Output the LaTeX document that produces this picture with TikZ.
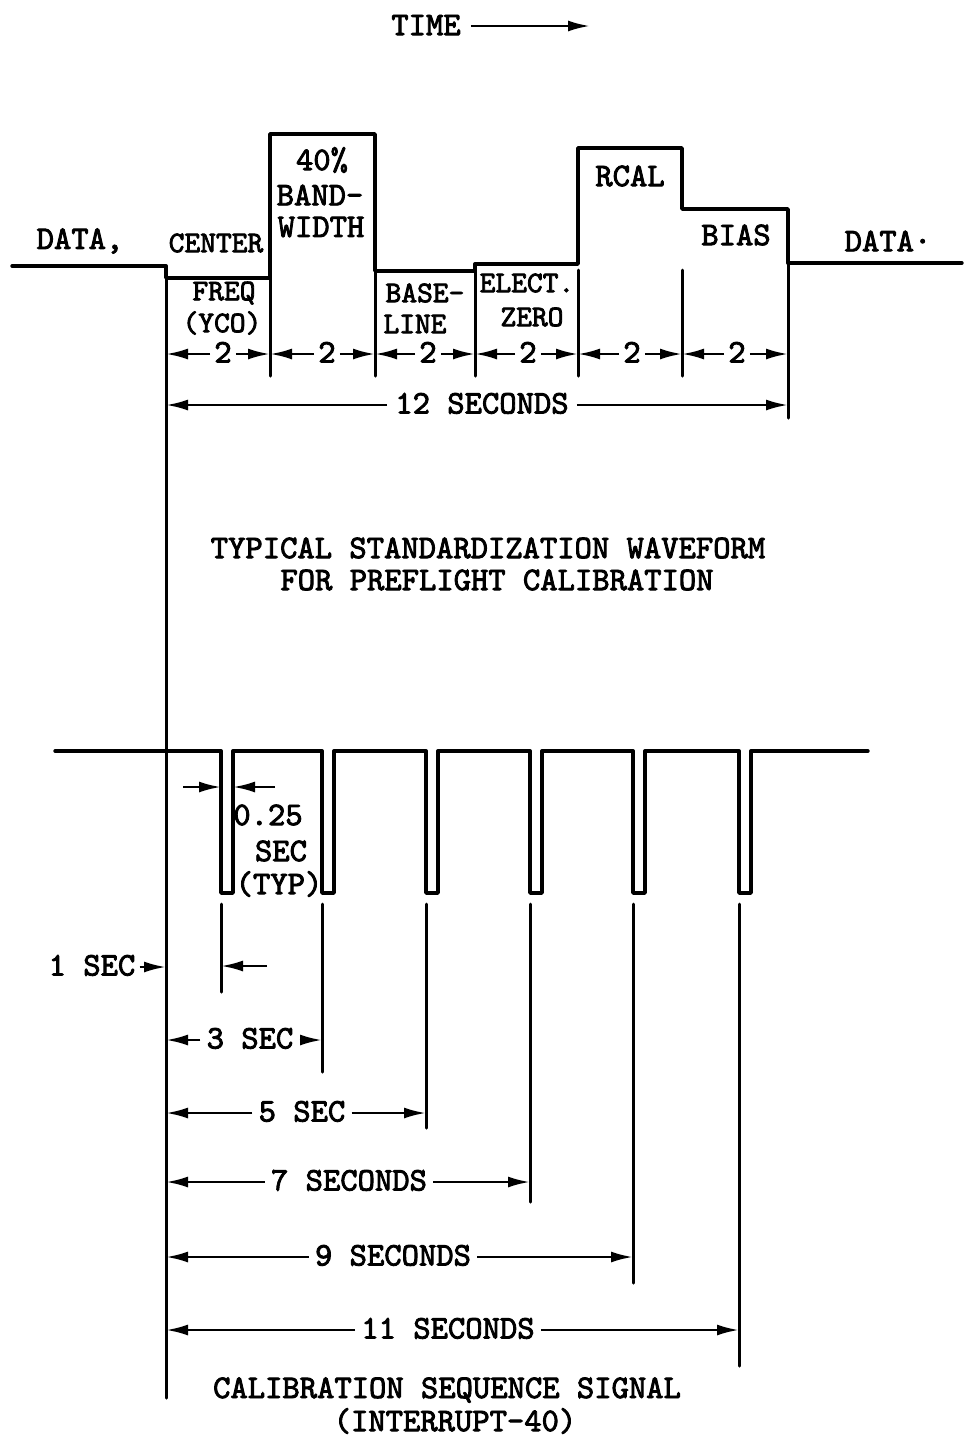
\documentclass[tikz,border=0pt]{standalone}
\usepackage{fontspec}
\newfontfamily\twfont{lmmono10-regular.otf}[AutoFakeBold=2.6]
\usetikzlibrary{arrows.meta}
\begin{document}
\begin{tikzpicture}[x=1pt,y=-1pt,
  wave/.style={line width=3.4pt, line join=round, line cap=round},
  ext/.style={line width=3pt, line cap=round},
  dim/.style={line width=2.6pt, -{Latex[length=22pt,width=11pt]}},
  lbl/.style={font=\twfont\bfseries\fontsize{33}{35}\selectfont, inner sep=0pt},
  sml/.style={font=\twfont\bfseries\fontsize{30}{32}\selectfont, inner sep=0pt},
  dl/.style={font=\twfont\bfseries\fontsize{33}{35}\selectfont, inner xsep=4pt, inner ysep=0pt, text height=17pt, text depth=0pt}]
\useasboundingbox (0,0) rectangle (964,1436);
% boundaries
\coordinate (b0) at (166,0);
\coordinate (b1) at (270,0);
\coordinate (b2) at (375,0);
\coordinate (b3) at (475,0);
\coordinate (b4) at (578,0);
\coordinate (b5) at (682,0);
\coordinate (b6) at (788,0);
% time
\node[lbl] (time) at (426,25) {TIME};
\coordinate (timeend) at (590,26);
\draw[dim] (time.east |- timeend) ++(10,0) -- (timeend);
% top waveform
\draw[wave] (12,266) -- (166,266) -- (166,278) -- (270,278) -- (270,134) -- (375,134)
  -- (375,271) -- (475,271) -- (475,264) -- (578,264) -- (578,148) -- (682,148)
  -- (682,209) -- (788,209) -- (788,263) -- (962,263);
\draw[ext] (166,278) -- (166,1398);
\foreach \b in {1,2,3,4,5} \draw[ext] (b\b |- 0,270) -- (b\b |- 0,376);
\draw[ext] (788,263) -- (788,418);
% labels top
\node[lbl] (dl) at (80,241) {DATA,};
\node[sml] (center) at (216,243) {CENTER};
\node[sml] (freq) at (224,293) {FREQ};
\node[sml] (vco) at (222,323) {(YCO)};
\node[lbl] (bw1) at (322,160) {40\%};
\node[lbl] (bw2) at (320,195) {BAND-};
\node[lbl] (bw3) at (321,227) {WIDTH};
\node[sml] (base1) at (425,293) {BASE-};
\node[sml] (base2) at (415,324) {LINE};
\node[sml] (el1) at (527,283) {ELECT.};
\node[sml] (el2) at (532,317) {ZERO};
\node[lbl] (rcal) at (630,176) {RCAL};
\node[lbl] (bias) at (736,235) {BIAS};
\node[lbl] (dr) at (888,241) {DATA·};
% 2-second dimensions
\foreach \i/\j/\m in {0/1/223,1/2/327,2/3/428,3/4/528,4/5/632,5/6/737}{
  \node[dl] (t\i) at (\m,354) {2};
  \draw[dim] (t\i.west) -- (t\i.west -| b\i);
  \draw[dim] (t\i.east) -- (t\i.east -| b\j);
}
\node[dl, inner xsep=8pt] (t12) at (482,405) {12 SECONDS};
\draw[dim] (t12.west) -- (t12.west -| b0);
\draw[dim] (t12.east) -- (t12.east -| b6);
% caption 1
\node[lbl] (cap1) at (488,548) {TYPICAL STANDARDIZATION WAVEFORM};
\node[lbl] (cap2) at (497,580) {FOR PREFLIGHT CALIBRATION};
% pulse train
\coordinate (p1) at (221,0);
\coordinate (p2) at (322,0);
\coordinate (p3) at (426,0);
\coordinate (p4) at (530,0);
\coordinate (p5) at (633,0);
\coordinate (p6) at (739,0);
\draw[wave] (55,751) -- (221,751) -- (221,893) -- (233,893) -- (233,751)
  -- (322,751) -- (322,893) -- (334,893) -- (334,751)
  -- (426,751) -- (426,893) -- (438,893) -- (438,751)
  -- (530,751) -- (530,893) -- (542,893) -- (542,751)
  -- (633,751) -- (633,893) -- (645,893) -- (645,751)
  -- (739,751) -- (739,893) -- (751,893) -- (751,751) -- (868,751);
\foreach \p/\e in {1/992,2/1072,3/1128,4/1202,5/1283,6/1366}
  \draw[ext] (p\p |- 0,904) -- (p\p |- 0,\e);
% 0.25 sec
\coordinate (qa) at (183,787);
\coordinate (qb) at (275,787);
\draw[dim] (qa) -- (qa -| p1);
\draw[dim] (qb) -- (qb -| 233,0);
\node[lbl] (q025) at (268,815) {0.25};
\node[lbl] (qsec) at (281,851) {SEC};
\node[lbl] (qtyp) at (279,884) {(TYP)};
% 1 sec
\node[dl] (one) at (92,967) {1 SEC};
\draw[dim] (one.east) -- (one.east -| b0);
\coordinate (oner) at (267,966);
\draw[dim] (oner) -- (oner -| p1);
% longer dims
\foreach \n/\x/\y/\p/\t in {d3/250/1040/2/3 SEC, d5/302/1113/3/5 SEC, d7/349/1182/4/7 SECONDS, d9/393/1257/5/9 SECONDS, d11/448/1330/6/11 SECONDS}{
  \node[dl, inner xsep=6pt] (\n) at (\x,\y) {\t};
  \draw[dim] (\n.west) -- (\n.west -| b0);
  \draw[dim] (\n.east) -- (\n.east -| p\p);
}
% caption 2
\node[lbl] (cap3) at (447,1390) {CALIBRATION SEQUENCE SIGNAL};
\node[lbl] (cap4) at (455,1421) {(INTERRUPT-40)};
\end{tikzpicture}
\end{document}
